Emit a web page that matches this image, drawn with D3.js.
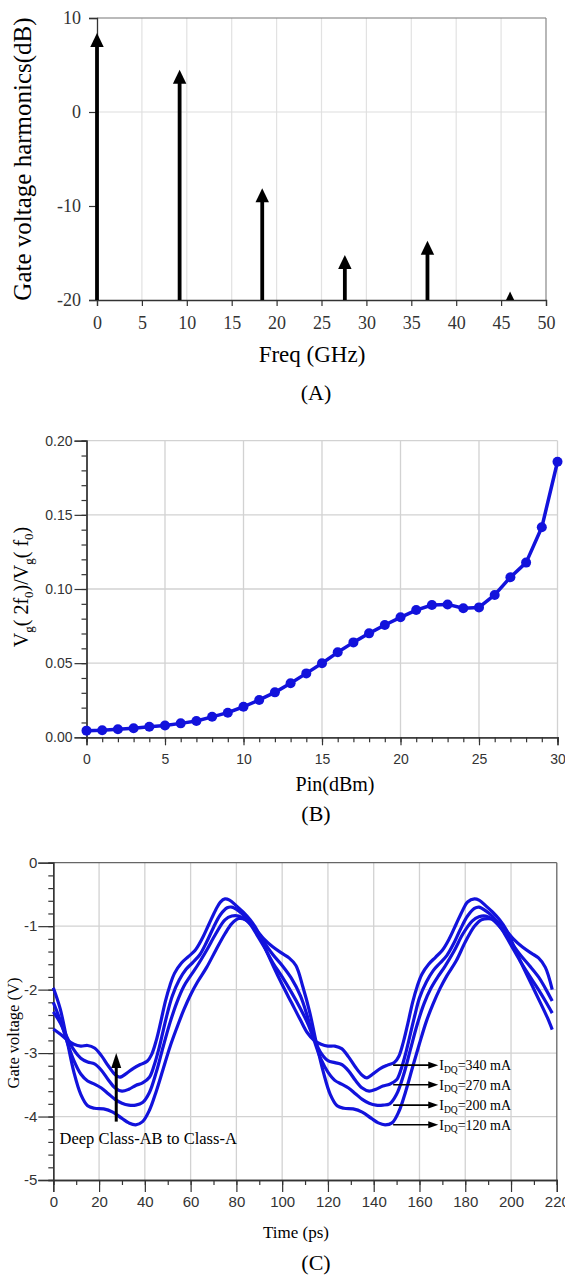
<!DOCTYPE html>
<html>
<head>
<meta charset="utf-8">
<script src="https://cdn.jsdelivr.net/npm/d3@7"></script>
<style>
body { margin: 0; background: #fff; }
</style>
</head>
<body>
<div id="chart"></div>
<script>
// ---- (A) gate voltage harmonics ----
let harmFreq = [0, 9.2, 18.4, 27.6, 36.8, 46];
let harmDb = [8.4, 4.5, -8.1, -15.2, -13.7, -19.1];
let freqTicks = [0, 5, 10, 15, 20, 25, 30, 35, 40, 45, 50];
let dbTicks = [10, 0, -10, -20];

// ---- (B) Vg(2f0)/Vg(f0) vs Pin ----
let pinDbm = [0, 1, 2, 3, 4, 5, 6, 7, 8, 9, 10, 11, 12, 13, 14, 15, 16, 17, 18, 19, 20, 21, 22, 23, 24, 25, 26, 27, 28, 29, 30];
let vgRatio = [0.0045, 0.0047, 0.0054, 0.0061, 0.0071, 0.008, 0.0094, 0.011, 0.0138, 0.0166, 0.0206, 0.0252, 0.0303, 0.0364, 0.0431, 0.0499,
    0.0573, 0.064, 0.0701, 0.0757, 0.0809, 0.0858, 0.0892, 0.0896, 0.087, 0.0876, 0.096, 0.1079, 0.1178, 0.1416, 0.1858];
let pinTicks = [0, 5, 10, 15, 20, 25, 30];
let ratioTicks = [0, 0.05, 0.1, 0.15, 0.2];

// ---- (C) gate voltage waveforms, [time ps, volts] ----
let wave340 = [[0, -2.62], [3, -2.7], [6, -2.79], [9, -2.86], [12, -2.89], [15, -2.88], [18, -2.92], [21, -3.04], [24, -3.2], [27, -3.34], [29, -3.38],
    [32, -3.32], [35, -3.24], [38, -3.18], [41, -3.13], [43, -3.02], [45, -2.8], [47, -2.5], [49, -2.18], [51, -1.93], [53, -1.74], [56, -1.58],
    [59, -1.48], [62, -1.38], [65, -1.2], [68, -0.97], [71, -0.74], [73, -0.62], [75, -0.57], [77, -0.59], [80, -0.68], [83, -0.78], [86, -0.9],
    [89, -1.06], [92, -1.3], [96, -1.62], [100, -1.92], [104, -2.2], [108, -2.48], [111, -2.68], [114, -2.8], [117, -2.86], [120, -2.89],
    [123, -2.89], [126, -2.93], [129, -3.06], [132, -3.22], [135, -3.35], [137, -3.39], [140, -3.32], [143, -3.24], [146, -3.19], [149, -3.15],
    [151, -3.05], [153, -2.82], [155, -2.52], [157, -2.2], [159, -1.95], [161, -1.76], [164, -1.6], [167, -1.49], [170, -1.38], [173, -1.2],
    [176, -0.97], [179, -0.74], [181, -0.62], [184, -0.57], [186, -0.59], [189, -0.68], [192, -0.78], [195, -0.9], [198, -1.06], [201, -1.3],
    [205, -1.62], [209, -1.92], [213, -2.22], [216, -2.45], [218, -2.63]];
let wave270 = [[0, -2.35], [3, -2.52], [6, -2.75], [9, -2.95], [12, -3.08], [15, -3.14], [18, -3.17], [21, -3.27], [24, -3.42], [27, -3.55], [30, -3.6],
    [33, -3.57], [36, -3.51], [39, -3.47], [42, -3.38], [44, -3.2], [46, -2.95], [48, -2.65], [50, -2.35], [52, -2.1], [55, -1.85], [58, -1.68],
    [61, -1.57], [64, -1.45], [67, -1.25], [70, -1.02], [73, -0.82], [76, -0.71], [78, -0.7], [81, -0.76], [84, -0.86], [88, -1.08], [92, -1.32],
    [96, -1.58], [100, -1.8], [104, -2.04], [108, -2.3], [111, -2.52], [114, -2.78], [117, -3.0], [120, -3.12], [123, -3.15], [126, -3.18],
    [129, -3.28], [132, -3.43], [135, -3.55], [138, -3.6], [141, -3.57], [144, -3.52], [147, -3.49], [150, -3.42], [152, -3.25], [154, -3.0],
    [156, -2.7], [158, -2.4], [160, -2.13], [163, -1.88], [166, -1.7], [169, -1.58], [172, -1.46], [175, -1.27], [178, -1.04], [181, -0.84],
    [184, -0.72], [186, -0.7], [189, -0.76], [192, -0.85], [196, -1.05], [200, -1.3], [204, -1.55], [208, -1.78], [212, -2.0], [215, -2.18], [218, -2.37]];
let wave200 = [[0, -2.2], [3, -2.48], [6, -2.82], [9, -3.12], [12, -3.33], [15, -3.44], [18, -3.49], [21, -3.55], [24, -3.64], [27, -3.73], [30, -3.79],
    [33, -3.82], [36, -3.82], [39, -3.78], [42, -3.62], [45, -3.3], [48, -2.9], [51, -2.52], [54, -2.2], [57, -1.95], [60, -1.78], [63, -1.62],
    [67, -1.38], [71, -1.12], [75, -0.9], [78, -0.84], [81, -0.84], [84, -0.9], [88, -1.05], [92, -1.25], [96, -1.45], [100, -1.62], [104, -1.82],
    [108, -2.1], [111, -2.42], [114, -2.8], [117, -3.1], [120, -3.3], [123, -3.43], [126, -3.49], [129, -3.55], [132, -3.64], [135, -3.73],
    [138, -3.79], [141, -3.82], [144, -3.82], [147, -3.8], [150, -3.65], [153, -3.35], [156, -2.95], [159, -2.55], [162, -2.22], [165, -1.98],
    [168, -1.8], [171, -1.64], [175, -1.4], [179, -1.12], [183, -0.92], [186, -0.85], [189, -0.84], [192, -0.9], [196, -1.05], [200, -1.25],
    [204, -1.45], [208, -1.62], [212, -1.8], [215, -1.98], [218, -2.18]];
let wave120 = [[0, -1.97], [3, -2.3], [6, -2.8], [9, -3.3], [12, -3.65], [15, -3.83], [18, -3.87], [22, -3.88], [26, -3.93], [30, -4.03], [33, -4.1],
    [36, -4.13], [39, -4.08], [42, -3.9], [45, -3.6], [48, -3.25], [51, -2.9], [54, -2.6], [57, -2.32], [60, -2.08], [63, -1.88], [67, -1.65],
    [71, -1.38], [75, -1.12], [78, -0.96], [81, -0.88], [84, -0.9], [88, -1.03], [92, -1.2], [96, -1.33], [100, -1.43], [103, -1.5], [106, -1.62],
    [109, -1.95], [112, -2.35], [115, -2.85], [118, -3.3], [121, -3.65], [124, -3.83], [127, -3.87], [131, -3.88], [135, -3.93], [139, -4.03],
    [142, -4.1], [145, -4.13], [148, -4.1], [151, -3.92], [154, -3.6], [157, -3.22], [160, -2.85], [163, -2.5], [166, -2.22], [169, -1.98],
    [172, -1.78], [176, -1.55], [180, -1.25], [184, -1.0], [187, -0.9], [190, -0.88], [193, -0.9], [197, -1.03], [201, -1.2], [205, -1.33],
    [209, -1.43], [212, -1.5], [215, -1.65], [218, -2.0]];
let idqNames = ["340", "270", "200", "120"];
let idqArrowV = [-3.19, -3.5, -3.82, -4.13];
let timeTicks = [0, 20, 40, 60, 80, 100, 120, 140, 160, 180, 200, 220];
let voltTicks = [0, -1, -2, -3, -4, -5];

const serif = "'Liberation Serif', 'Times New Roman', serif";
const sans = "'Liberation Sans', Arial, sans-serif";
const blue = "#1212dc";
const gridColor = "#d2d2d2";

let svg = d3.select("#chart").append("svg").attr("width", 565).attr("height", 1276);

function styleAxis(g, font, size, color) {
    g.selectAll("text").attr("font-family", font).attr("font-size", size).attr("fill", color);
    g.selectAll("path.domain").attr("stroke", "#333").attr("stroke-width", 1.3);
    g.selectAll(".tick line").attr("stroke", "#333").attr("stroke-width", 1.2);
}

// =============== (A) =================
let xA = d3.scaleLinear().domain([0, 50]).range([97, 546]);
let yA = d3.scaleLinear().domain([-20, 10]).range([300, 18]);
let gA = svg.append("g");
gA.selectAll("line.vgrid").data(freqTicks.slice(1, -1)).join("line").attr("class", "vgrid")
    .attr("x1", d => xA(d)).attr("x2", d => xA(d)).attr("y1", yA(-20)).attr("y2", yA(10))
    .attr("stroke", "#e2e2e2").attr("stroke-width", 1.2);
gA.append("line").attr("x1", xA(0)).attr("x2", xA(50)).attr("y1", yA(0)).attr("y2", yA(0))
    .attr("stroke", "#dedede").attr("stroke-width", 1.2);
gA.append("line").attr("x1", xA(0)).attr("x2", xA(50)).attr("y1", yA(10)).attr("y2", yA(10))
    .attr("stroke", "#777").attr("stroke-width", 1.2);
gA.append("line").attr("x1", xA(50)).attr("x2", xA(50)).attr("y1", yA(10)).attr("y2", yA(-20))
    .attr("stroke", "#888").attr("stroke-width", 1.2);

let axA = gA.append("g").attr("transform", "translate(0," + yA(-20) + ")")
    .call(d3.axisBottom(xA).tickValues(freqTicks).tickSize(6).tickPadding(10).tickFormat(d => String(d)));
styleAxis(axA, serif, 18, "#333");
let ayA = gA.append("g").attr("transform", "translate(" + xA(0) + ",0)")
    .call(d3.axisLeft(yA).tickValues(dbTicks).tickSize(8).tickPadding(8).tickFormat(d => String(d)));
styleAxis(ayA, serif, 18, "#333");

// harmonic arrows
harmFreq.forEach((f, i) => {
    let x = xA(f), yTip = yA(harmDb[i]), yBase = yA(-20);
    let headH = Math.min(14, yBase - yTip);
    let headW = headH * 0.48;
    if (yBase - (yTip + headH) > 0) {
        gA.append("line").attr("x1", x).attr("x2", x).attr("y1", yBase).attr("y2", yTip + headH - 1)
            .attr("stroke", "#000").attr("stroke-width", 3.8);
    }
    gA.append("path").attr("d", "M" + x + "," + yTip + "L" + (x + headW) + "," + (yTip + headH) + "L" + (x - headW) + "," + (yTip + headH) + "Z")
        .attr("fill", "#000");
});

gA.append("text").attr("transform", "translate(31,159) rotate(-90)").attr("text-anchor", "middle")
    .attr("font-family", serif).attr("font-size", 25).text("Gate voltage harmonics(dB)");
gA.append("text").attr("x", 312).attr("y", 362).attr("text-anchor", "middle")
    .attr("font-family", serif).attr("font-size", 23).text("Freq (GHz)");
gA.append("text").attr("x", 316).attr("y", 400).attr("text-anchor", "middle")
    .attr("font-family", serif).attr("font-size", 22).text("(A)");

// =============== (B) =================
let xB = d3.scaleLinear().domain([0, 30]).range([86.5, 557.5]);
let yB = d3.scaleLinear().domain([0, 0.2]).range([737.3, 440.7]);
let gB = svg.append("g");
gB.selectAll("line.vgrid").data(pinTicks.slice(1)).join("line").attr("class", "vgrid")
    .attr("x1", d => xB(d)).attr("x2", d => xB(d)).attr("y1", yB(0)).attr("y2", yB(0.2))
    .attr("stroke", gridColor).attr("stroke-width", 1.3);
gB.selectAll("line.hgrid").data(ratioTicks.slice(1)).join("line").attr("class", "hgrid")
    .attr("x1", xB(0)).attr("x2", xB(30)).attr("y1", d => yB(d)).attr("y2", d => yB(d))
    .attr("stroke", gridColor).attr("stroke-width", 1.3);

let minorB = gB.append("g").attr("transform", "translate(0," + yB(0) + ")")
    .call(d3.axisBottom(xB).tickValues(pinDbm).tickSize(5).tickFormat(""));
styleAxis(minorB, sans, 14, "#333");
let minorBy = gB.append("g").attr("transform", "translate(" + xB(0) + ",0)")
    .call(d3.axisLeft(yB).tickValues(d3.range(0, 0.2001, 0.01)).tickSize(5).tickFormat(""));
styleAxis(minorBy, sans, 14, "#333");
let axB = gB.append("g").attr("transform", "translate(0," + yB(0) + ")")
    .call(d3.axisBottom(xB).tickValues(pinTicks).tickSize(8).tickPadding(9).tickFormat(d => String(d)));
styleAxis(axB, sans, 14, "#333");
let ayB = gB.append("g").attr("transform", "translate(" + xB(0) + ",0)")
    .call(d3.axisLeft(yB).tickValues(ratioTicks).tickSize(12).tickPadding(2).tickFormat(d3.format(".2f")));
styleAxis(ayB, sans, 14, "#333");

let lineB = d3.line().x((d, i) => xB(pinDbm[i])).y(d => yB(d));
gB.append("path").datum(vgRatio).attr("d", lineB).attr("fill", "none")
    .attr("stroke", blue).attr("stroke-width", 3.5).attr("stroke-linejoin", "round");
gB.selectAll("circle").data(vgRatio).join("circle")
    .attr("cx", (d, i) => xB(pinDbm[i])).attr("cy", d => yB(d)).attr("r", 5)
    .attr("fill", blue);

let yTitleB = gB.append("text").attr("transform", "translate(28,587) rotate(-90)").attr("text-anchor", "middle")
    .attr("font-family", serif).attr("font-size", 20);
yTitleB.append("tspan").text("V");
yTitleB.append("tspan").attr("font-size", 13).attr("dy", 5).text("g");
yTitleB.append("tspan").attr("dy", -5).text("( 2f");
yTitleB.append("tspan").attr("font-size", 13).attr("dy", 5).text("0");
yTitleB.append("tspan").attr("dy", -5).text(")/V");
yTitleB.append("tspan").attr("font-size", 13).attr("dy", 5).text("g");
yTitleB.append("tspan").attr("dy", -5).text("( f");
yTitleB.append("tspan").attr("font-size", 13).attr("dy", 5).text("0");
yTitleB.append("tspan").attr("dy", -5).text(")");
gB.append("text").attr("x", 335).attr("y", 791).attr("text-anchor", "middle")
    .attr("font-family", serif).attr("font-size", 20).text("Pin(dBm)");
gB.append("text").attr("x", 316).attr("y", 821).attr("text-anchor", "middle")
    .attr("font-family", serif).attr("font-size", 22).text("(B)");

// =============== (C) =================
let xC = d3.scaleLinear().domain([0, 220]).range([53.3, 556.8]);
let yC = d3.scaleLinear().domain([-5, 0]).range([1180, 862.7]);
let gC = svg.append("g");
gC.selectAll("line.vgrid").data(timeTicks.slice(1, -1)).join("line").attr("class", "vgrid")
    .attr("x1", d => xC(d)).attr("x2", d => xC(d)).attr("y1", yC(-5)).attr("y2", yC(0))
    .attr("stroke", gridColor).attr("stroke-width", 1.3);
gC.selectAll("line.hgrid").data(voltTicks.slice(1, -1)).join("line").attr("class", "hgrid")
    .attr("x1", xC(0)).attr("x2", xC(220)).attr("y1", d => yC(d)).attr("y2", d => yC(d))
    .attr("stroke", gridColor).attr("stroke-width", 1.3);
gC.append("line").attr("x1", xC(0)).attr("x2", xC(220)).attr("y1", yC(0)).attr("y2", yC(0))
    .attr("stroke", "#666").attr("stroke-width", 1.3);
gC.append("line").attr("x1", xC(220)).attr("x2", xC(220)).attr("y1", yC(0)).attr("y2", yC(-5))
    .attr("stroke", "#666").attr("stroke-width", 1.3);

let minorC = gC.append("g").attr("transform", "translate(0," + yC(-5) + ")")
    .call(d3.axisBottom(xC).tickValues(d3.range(0, 221, 10)).tickSize(5).tickFormat(""));
styleAxis(minorC, sans, 15, "#333");
let minorCy = gC.append("g").attr("transform", "translate(" + xC(0) + ",0)")
    .call(d3.axisLeft(yC).tickValues(d3.range(-5, 0.001, 0.2)).tickSize(5).tickFormat(""));
styleAxis(minorCy, sans, 15, "#333");
let axC = gC.append("g").attr("transform", "translate(0," + yC(-5) + ")")
    .call(d3.axisBottom(xC).tickValues(timeTicks).tickSize(12).tickPadding(4).tickFormat(d => String(d)));
styleAxis(axC, sans, 15, "#333");
let ayC = gC.append("g").attr("transform", "translate(" + xC(0) + ",0)")
    .call(d3.axisLeft(yC).tickValues(voltTicks).tickSize(15).tickPadding(1).tickFormat(d => String(d)));
styleAxis(ayC, sans, 15, "#333");

let lineC = d3.line().x(d => xC(d[0])).y(d => yC(d[1])).curve(d3.curveCatmullRom.alpha(0.5));
[wave340, wave270, wave200, wave120].forEach(w => {
    gC.append("path").datum(w).attr("d", lineC).attr("fill", "none")
        .attr("stroke", blue).attr("stroke-width", 3.2);
});

// label arrows
idqNames.forEach((name, i) => {
    let y = yC(idqArrowV[i]);
    let x0 = xC(148.5), xTip = xC(168.2);
    gC.append("line").attr("x1", x0).attr("x2", xTip - 8).attr("y1", y).attr("y2", y)
        .attr("stroke", "#000").attr("stroke-width", 1.6);
    gC.append("path").attr("d", "M" + xTip + "," + y + "L" + (xTip - 10) + "," + (y - 3.5) + "L" + (xTip - 10) + "," + (y + 3.5) + "Z")
        .attr("fill", "#000");
    let t = gC.append("text").attr("x", xTip + 1).attr("y", y + 5).attr("font-family", serif).attr("font-size", 14);
    t.append("tspan").text("I");
    t.append("tspan").attr("font-size", 9.5).attr("dy", 2.5).text("DQ");
    t.append("tspan").attr("dy", -2.5).text("=" + name + " mA");
});

// class arrow
let xa = xC(27.5), ya0 = yC(-4.08), yaTip = yC(-3.0);
gC.append("line").attr("x1", xa).attr("x2", xa).attr("y1", ya0).attr("y2", yaTip + 13)
    .attr("stroke", "#000").attr("stroke-width", 3);
gC.append("path").attr("d", "M" + xa + "," + yaTip + "L" + (xa + 5) + "," + (yaTip + 15) + "L" + (xa - 5) + "," + (yaTip + 15) + "Z")
    .attr("fill", "#000");
gC.append("text").attr("x", 59.5).attr("y", 1144).attr("font-family", serif).attr("font-size", 16.5)
    .text("Deep Class-AB to Class-A");

gC.append("text").attr("transform", "translate(19,1033) rotate(-90)").attr("text-anchor", "middle")
    .attr("font-family", serif).attr("font-size", 16.5).text("Gate voltage (V)");
gC.append("text").attr("x", 296).attr("y", 1238).attr("text-anchor", "middle")
    .attr("font-family", serif).attr("font-size", 17).text("Time (ps)");
gC.append("text").attr("x", 316).attr("y", 1270).attr("text-anchor", "middle")
    .attr("font-family", serif).attr("font-size", 22).text("(C)");
</script>
</body>
</html>
